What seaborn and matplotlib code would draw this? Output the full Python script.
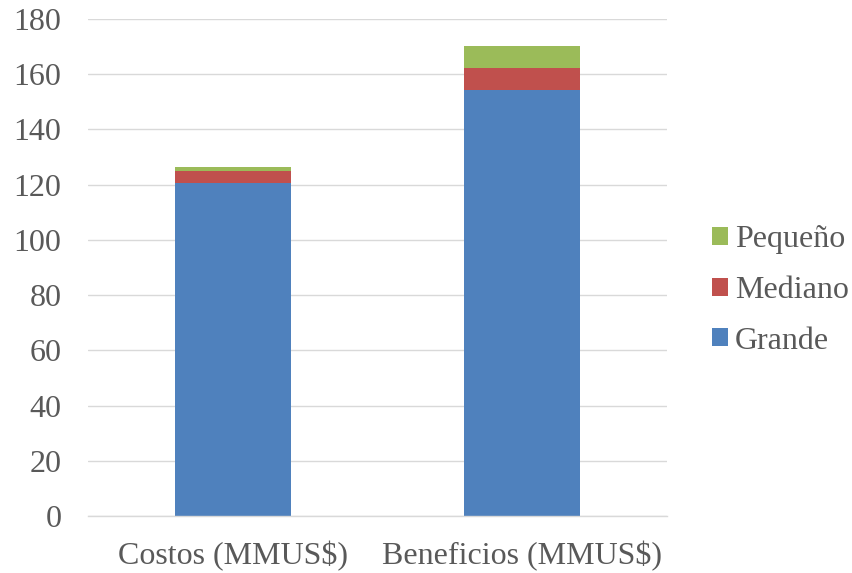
import matplotlib
matplotlib.use("Agg")
import matplotlib.pyplot as plt
import seaborn as sns
import pandas as pd
import numpy as np
from matplotlib.patches import Patch

categories = ["Costos (MMUS$)", "Beneficios (MMUS$)"]
grande = [120.4, 154.2]
mediano = [4.7, 7.9]
pequeno = [1.1, 8.1]
series_names = ["Pequeño", "Mediano", "Grande"]
colors = {"Grande": "#4F81BD", "Mediano": "#C0504D", "Pequeño": "#9BBB59"}
y_ticks = [0, 20, 40, 60, 80, 100, 120, 140, 160, 180]

sns.set_theme(style="white")
plt.rcParams["font.family"] = ["Liberation Serif", "DejaVu Serif"]

fig = plt.figure(figsize=(8.52, 5.73), dpi=100)
ax = fig.add_axes([0.103, 0.0995, 0.68, 0.8675])

cum_g = np.array(grande)
cum_m = cum_g + np.array(mediano)
cum_p = cum_m + np.array(pequeno)

# stacked bars: draw cumulative totals back to front
for name, vals in [("Pequeño", cum_p), ("Mediano", cum_m), ("Grande", cum_g)]:
    df = pd.DataFrame({"cat": categories, "val": vals})
    sns.barplot(data=df, x="cat", y="val", color=colors[name], width=0.4,
                saturation=1, ax=ax, zorder=3, edgecolor="none")

ax.set_ylim(0, 180)
ax.set_xlim(-0.5, 1.5)
ax.set_yticks(y_ticks)
ax.set_xlabel("")
ax.set_ylabel("")
ax.grid(axis="y", color="#D9D9D9", linewidth=1, zorder=0)
ax.grid(axis="x", visible=False)
for s in ["top", "right", "left"]:
    ax.spines[s].set_visible(False)
ax.spines["bottom"].set_color("#D9D9D9")
ax.spines["bottom"].set_linewidth(1)
ax.spines["bottom"].set_zorder(4)
ax.tick_params(axis="y", length=0, pad=19, labelsize=23, labelcolor="#595959")
ax.tick_params(axis="x", length=0, pad=18, labelsize=23, labelcolor="#595959")

handles = [Patch(facecolor=colors[n], edgecolor="none") for n in series_names]
leg = fig.legend(handles, series_names, loc="center left", bbox_to_anchor=(0.836, 0.493),
                 frameon=False, fontsize=23, handlelength=0.5, handleheight=0.5,
                 handletextpad=0.2, labelspacing=0.68, labelcolor="#595959",
                 borderaxespad=0, borderpad=0)

fig.savefig("out.png", dpi=100, facecolor="white")
